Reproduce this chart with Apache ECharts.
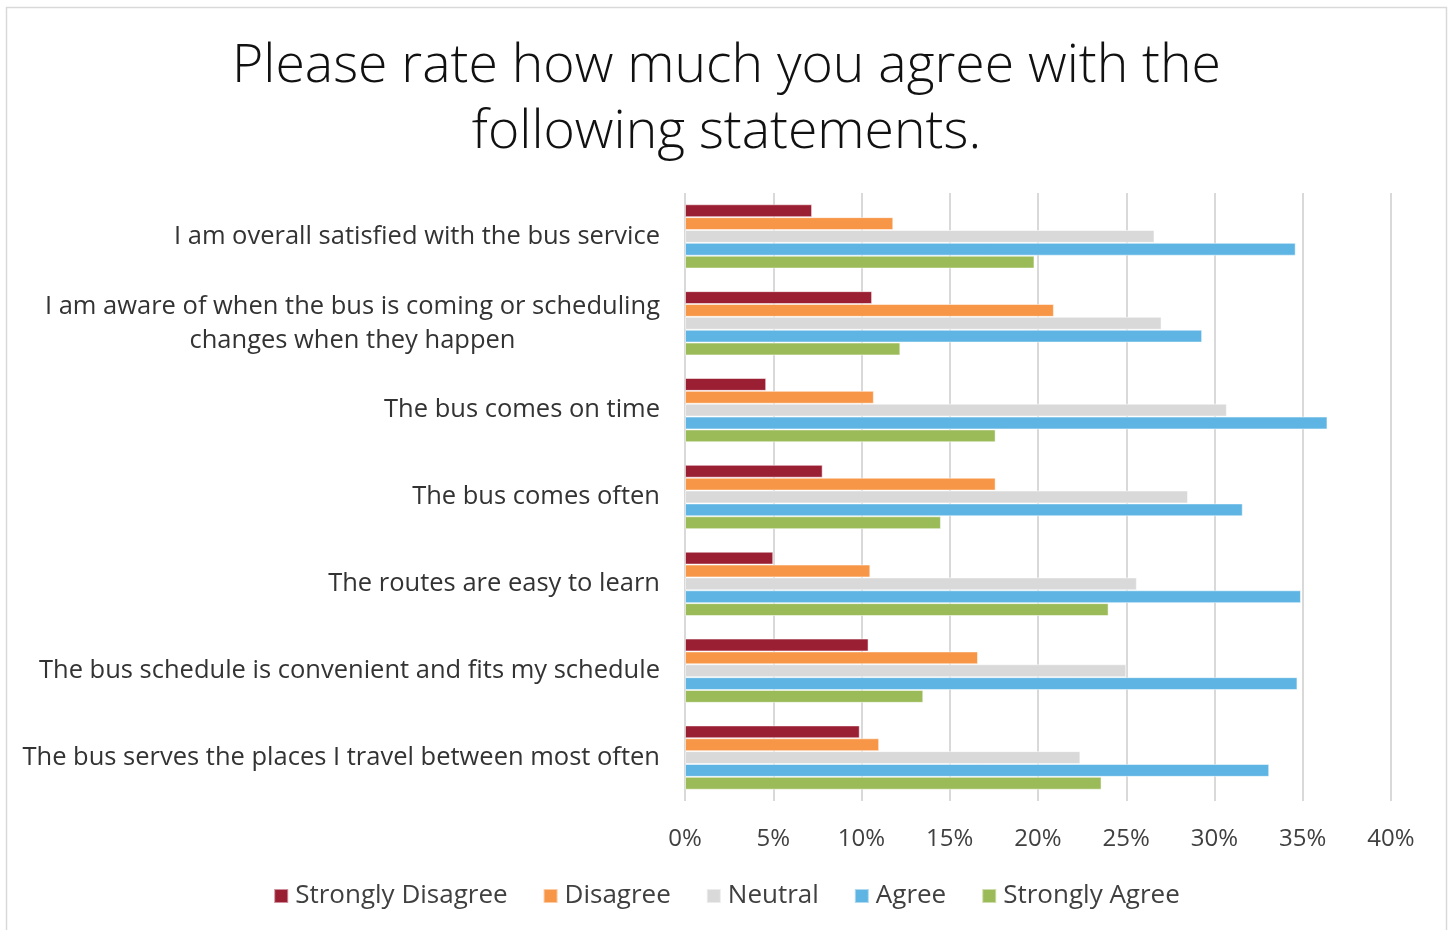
<!DOCTYPE html>
<html>
<head>
<meta charset="utf-8">
<script src="https://cdn.jsdelivr.net/npm/echarts@6/dist/echarts.min.js"></script>
<style>
  html, body { margin: 0; padding: 0; background: #fff; }
  #chart { width: 1453px; height: 930px; }
</style>
</head>
<body>
<div id="chart"></div>
<script>
// Survey statements (top to bottom)
const statements = [
  'I am overall satisfied with the bus service',
  'I am aware of when the bus is coming or scheduling\nchanges when they happen',
  'The bus comes on time',
  'The bus comes often',
  'The routes are easy to learn',
  'The bus schedule is convenient and fits my schedule',
  'The bus serves the places I travel between most often'
];

// Share of responses (%) per answer, in statement order
const stronglyDisagree = [7.2, 10.6, 4.6, 7.8, 5.0, 10.4, 9.9];
const disagree         = [11.8, 20.9, 10.7, 17.6, 10.5, 16.6, 11.0];
const neutral          = [26.6, 27.0, 30.7, 28.5, 25.6, 25.0, 22.4];
const agree            = [34.6, 29.3, 36.4, 31.6, 34.9, 34.7, 33.1];
const stronglyAgree    = [19.8, 12.2, 17.6, 14.5, 24.0, 13.5, 23.6];

const answerNames = ['Strongly Disagree', 'Disagree', 'Neutral', 'Agree', 'Strongly Agree'];
const answerColors = ['#9B1F33', '#F79646', '#D9D9D9', '#5EB5E3', '#9BBB59'];
const answerValues = [stronglyDisagree, disagree, neutral, agree, stronglyAgree];

const FONT = '"Open Sans", "Noto Sans", sans-serif';

const chart = echarts.init(document.getElementById('chart'), null, { renderer: 'canvas' });

const series = answerNames.map((name, i) => ({
  name: name,
  type: 'bar',
  data: answerValues[i],
  barGap: '0%',
  barCategoryGap: '26%',
  itemStyle: { color: answerColors[i], borderColor: 'rgba(255,255,255,0.5)', borderWidth: 1 },
  emphasis: { disabled: true }
}));

chart.setOption({
  animation: false,
  backgroundColor: '#ffffff',
  graphic: [{
    type: 'rect',
    shape: { x: 6.5, y: 7.5, width: 1440, height: 940 },
    style: { fill: 'none', stroke: '#d9d9d9', lineWidth: 1.5 },
    silent: true
  }],
  title: {
    text: 'Please rate how much you agree with the\nfollowing statements.',
    left: 'center',
    top: 29,
    textStyle: {
      fontFamily: FONT,
      fontWeight: 300,
      fontSize: 53.5,
      lineHeight: 66,
      color: '#111111'
    }
  },
  legend: {
    bottom: 16,
    left: 'center',
    itemWidth: 14,
    itemHeight: 14,
    itemGap: 35,
    icon: 'rect',
    textStyle: { fontFamily: FONT, fontSize: 26, color: '#404040', padding: [0, 0, 0, 2] },
    data: answerNames
  },
  grid: { left: 685, right: 62, top: 193, bottom: 129, containLabel: false },
  xAxis: {
    type: 'value',
    min: 0,
    max: 40,
    interval: 5,
    axisLine: { show: false },
    axisTick: { show: false },
    splitLine: { show: true, lineStyle: { color: '#d9d9d9', width: 2 } },
    axisLabel: {
      formatter: '{value}%',
      margin: 26,
      fontFamily: FONT,
      fontSize: 24,
      color: '#404040'
    }
  },
  yAxis: {
    type: 'category',
    inverse: true,
    data: statements,
    axisLine: { show: false },
    axisTick: { show: false },
    axisLabel: {
      margin: 25,
      fontFamily: FONT,
      fontSize: 25.5,
      lineHeight: 34,
      color: '#333333',
      formatter: (v) => v.split('\n').map(s => '{c|' + s + '}').join('\n'),
      rich: {
        c: { fontFamily: FONT, fontSize: 25.5, lineHeight: 34, color: '#333333', align: 'center' }
      }
    }
  },
  series: series
});
</script>
</body>
</html>
